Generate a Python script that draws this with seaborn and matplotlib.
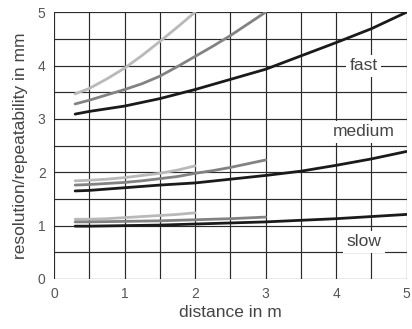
import numpy as np
import pandas as pd
import matplotlib
matplotlib.use("Agg")
import matplotlib.pyplot as plt
import seaborn as sns

# curve data (distance in m -> resolution in mm)
x_short = [0.3, 0.5, 0.75, 1.0, 1.25, 1.5, 1.75, 2.0]
x_mid = [0.3, 0.5, 0.75, 1.0, 1.25, 1.5, 1.75, 2.0, 2.25, 2.5, 2.75, 3.0]
x_long = [0.3, 0.5, 1.0, 1.5, 2.0, 2.5, 3.0, 3.5, 4.0, 4.5, 5.0]

fast_light = [3.47, 3.57, 3.75, 3.95, 4.19, 4.45, 4.72, 5.0]
fast_gray = [3.28, 3.35, 3.45, 3.55, 3.66, 3.80, 3.98, 4.17, 4.36, 4.56, 4.78, 5.0]
fast_black = [3.09, 3.14, 3.24, 3.38, 3.55, 3.74, 3.93, 4.18, 4.43, 4.69, 5.0]

medium_light = [1.84, 1.85, 1.87, 1.9, 1.94, 1.98, 2.04, 2.12]
medium_gray = [1.76, 1.77, 1.79, 1.81, 1.84, 1.88, 1.92, 1.98, 2.03, 2.09, 2.16, 2.23]
medium_black = [1.65, 1.66, 1.71, 1.76, 1.80, 1.87, 1.94, 2.02, 2.13, 2.25, 2.39]

slow_light = [1.12, 1.12, 1.13, 1.15, 1.17, 1.19, 1.21, 1.24]
slow_gray = [1.07, 1.07, 1.075, 1.08, 1.085, 1.09, 1.10, 1.11, 1.12, 1.13, 1.145, 1.16]
slow_black = [0.99, 0.99, 1.0, 1.01, 1.03, 1.05, 1.07, 1.1, 1.13, 1.17, 1.21]

labels = ["fast", "medium", "slow"]
label_x = [4.39, 4.39, 4.39]
label_y = [4.0, 2.76, 0.70]

sns.set_style("white")
plt.rcParams['font.family'] = ['Liberation Sans', 'DejaVu Sans']

fig, ax = plt.subplots(figsize=(4.12, 3.29), dpi=100)
fig.subplots_adjust(left=0.131, right=0.987, bottom=0.152, top=0.963)

# grid every 0.5
for v in np.arange(0, 5.01, 0.5):
    ax.axvline(v, color="#2a2a2a", lw=0.85, zorder=1)
    ax.axhline(v, color="#2a2a2a", lw=0.85, zorder=1)

colors = {"light": "#b9b9b9", "gray": "#828282", "black": "#1a1a1a"}
series = [
    (x_short, fast_light, "light"), (x_mid, fast_gray, "gray"), (x_long, fast_black, "black"),
    (x_short, medium_light, "light"), (x_mid, medium_gray, "gray"), (x_long, medium_black, "black"),
    (x_short, slow_light, "light"), (x_mid, slow_gray, "gray"), (x_long, slow_black, "black"),
]
for xs, ys, c in series:
    sns.lineplot(x=xs, y=ys, color=colors[c], lw=2.0, ax=ax, zorder=3)

for t, lx, ly in zip(labels, label_x, label_y):
    ax.text(lx, ly, t, ha="center", va="center", fontsize=12.5, color="#444444", zorder=4,
            bbox=dict(facecolor="white", edgecolor="none", pad=2.5))

ax.set_xlim(0, 5)
ax.set_ylim(0, 5)
ax.set_xticks(range(6))
ax.set_yticks(range(6))
ax.tick_params(length=0, labelsize=10, labelcolor="#555555", pad=6)
ax.set_xlabel("distance in m", fontsize=12.5, color="#444444", labelpad=3)
ax.set_ylabel("resolution/repeatability in mm", fontsize=12.5, color="#444444", labelpad=7)
for s in ax.spines.values():
    s.set_visible(False)

fig.savefig("out.png", dpi=100)
